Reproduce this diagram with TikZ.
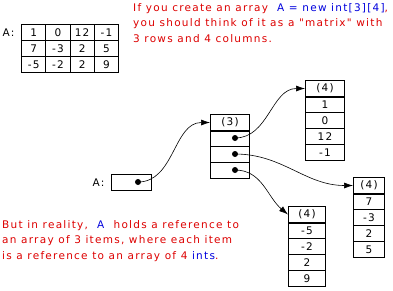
\documentclass[tikz,border=0pt]{standalone}
\usepackage{fontspec}
\setmainfont{DejaVu Sans}
\newfontfamily\pixfont[LetterSpace=12]{DejaVu Sans}
\usetikzlibrary{arrows.meta}

\definecolor{notered}{RGB}{221,0,0}
\definecolor{noteblue}{RGB}{0,0,221}

\tikzset{
  cell/.style={draw, line width=1pt, minimum height=16pt, inner sep=0pt,
    anchor=north west, font=\pixfont\fontsize{10.5}{11}\selectfont},
  dot/.style={circle, fill, inner sep=0pt, minimum size=6pt},
  ref/.style={line width=0.6pt, -{Latex[length=9pt,width=6pt]}},
  note/.style={anchor=base west, align=left, inner sep=0pt, text=notered,
    font=\pixfont\fontsize{10.5}{15.5}\selectfont}
}

\begin{document}
\begin{tikzpicture}[x=1pt, y=1pt]
  \useasboundingbox (0,0) rectangle (393,-290);

  % The "matrix" view, 3 rows by 4 columns
  \def\colW{24.25}
  \foreach \row [count=\r] in {{1,0,12,-1},{7,-3,2,5},{-5,-2,2,9}}{
      \foreach \v [count=\c] in \row {
          \node[cell, minimum width=\colW] (M\r\c) at ({21+\colW*(\c-1)}, {-24-16*(\r-1)}) {\v};
        }
    }
  \node[anchor=east, font=\pixfont\fontsize{10.5}{11}\selectfont] (labM) at ([xshift=-3pt]M11.west) {A:};

  % Notes (anchored at the baseline of their last line)
  \node[note] (noteTop) at (133,-42) {If you create an array\ \ \textcolor{noteblue}{A = new int[3][4]},\\
    you should think of it as a "matrix" with\\
    3 rows and 4 columns.};
  \node[note] (noteBot) at (2,-259) {But in reality,\ \ \textcolor{noteblue}{A}\ \ holds a reference to\\
    an array of 3 items, where each item\\
    is a reference to an array of 4 \textcolor{noteblue}{ints}.};

  % The variable A
  \node[cell, minimum width=40] (varA) at (111,-174) {};
  \node[anchor=east, font=\pixfont\fontsize{10.5}{11}\selectfont] (labA) at ([xshift=-3pt]varA.west) {A:};
  \node[dot] (dA) at (138,-182) {};

  % Array of 3 references
  \node[cell, minimum width=39] (C0) at (210,-114) {(3)};
  \foreach \i in {1,2,3}{
      \node[cell, minimum width=39] (C\i) at (210,{-114-16*\i}) {};
      \node[dot] (d\i) at (235,{-122-16*\i}) {};
    }
  \draw[line width=2pt] (C0.south west) -- (C0.south east);

  % Arrays of 4 ints
  \foreach \nm/\x/\y/\w/\vals in {P/305/80/39/{1,0,12,-1}, Q/353/177/31/{7,-3,2,5}, R/288/206/37/{-5,-2,2,9}}{
      \node[cell, minimum width=\w] (\nm0) at (\x,-\y) {(4)};
      \foreach \v [count=\i] in \vals {
          \node[cell, minimum width=\w] (\nm\i) at (\x,{-\y-16*\i}) {\v};
        }
      \draw[line width=2pt] (\nm0.south west) -- (\nm0.south east);
    }

  % References
  \draw[ref] (dA.center) to[out=0, in=180] (C0.west);
  \draw[ref] (d1.center) to[out=0, in=180] (P0.west);
  \draw[ref] (d2.center) to[out=0, in=180] (Q0.west);
  \draw[ref] (d3.center) to[out=0, in=140] (R0.west);
\end{tikzpicture}
\end{document}
